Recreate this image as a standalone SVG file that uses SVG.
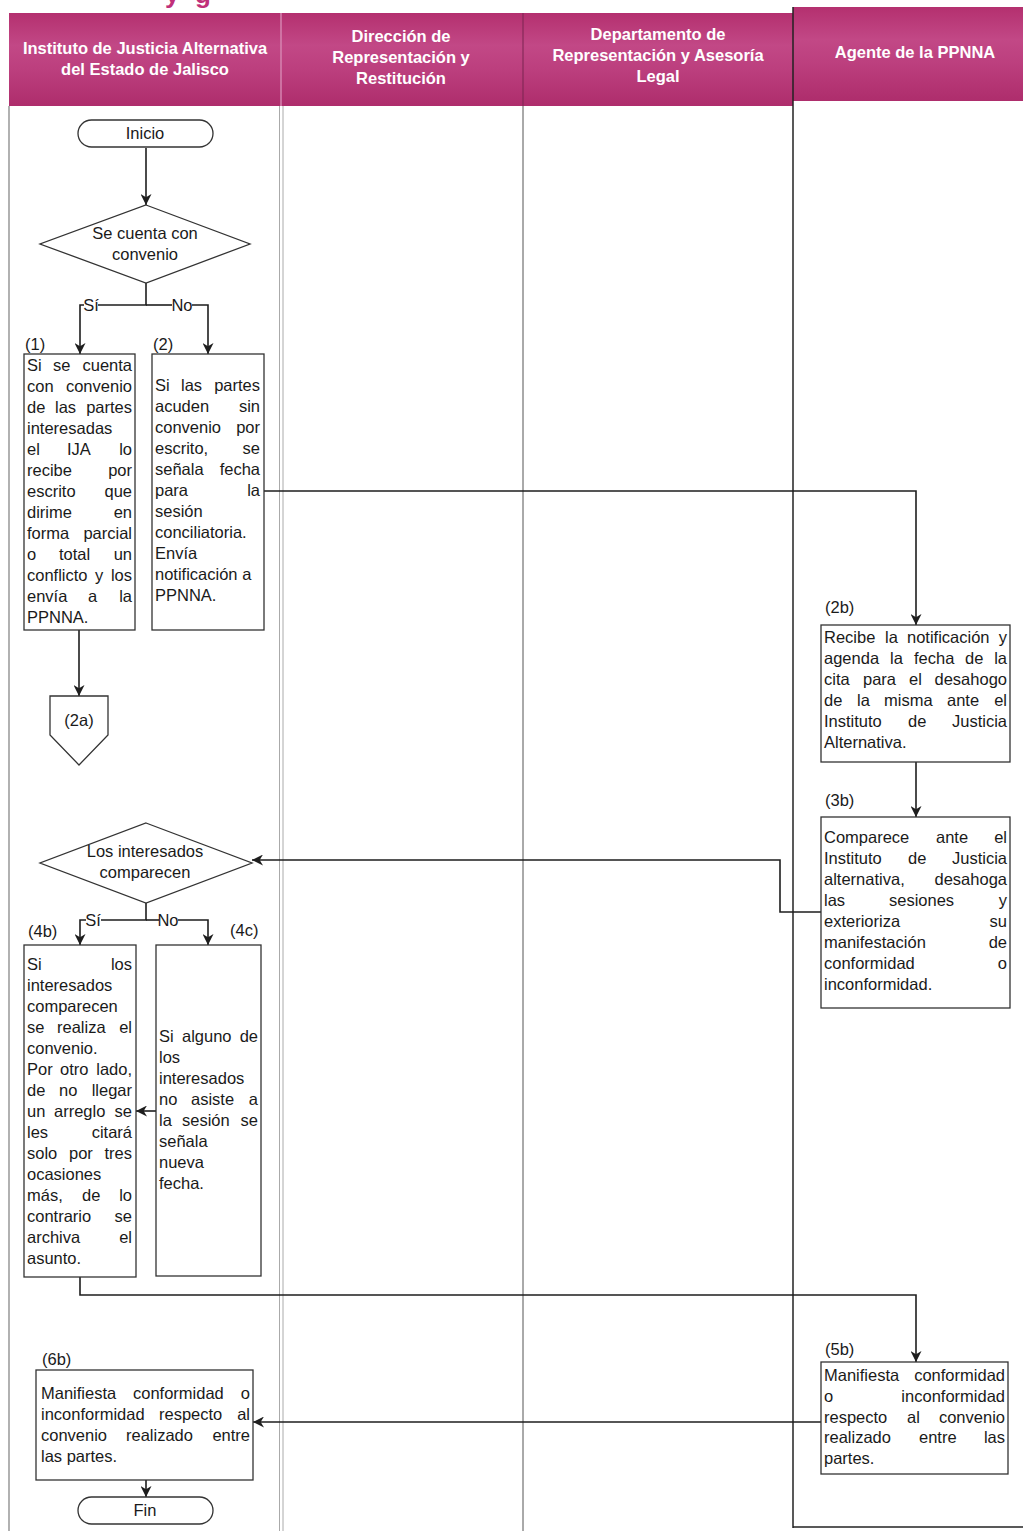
<svg xmlns="http://www.w3.org/2000/svg" width="1023" height="1531" viewBox="0 0 1023 1531">
<style>
.t{font-family:"Liberation Sans",Arial,sans-serif;font-size:16.5px;fill:#1a1a1a}
.r{text-anchor:end}
.m{text-anchor:middle}
.hd{font-family:"Liberation Sans",Arial,sans-serif;font-size:16.5px;font-weight:bold;fill:#ffffff;text-anchor:middle}
.box{fill:#ffffff;stroke:#333;stroke-width:1.3}
.cn{fill:none;stroke:#1e1e1e;stroke-width:1.6}
</style>
<defs>
<linearGradient id="hg" x1="0" y1="0" x2="0" y2="1">
<stop offset="0" stop-color="#b4306f"/>
<stop offset="0.35" stop-color="#c24886"/>
<stop offset="0.6" stop-color="#bc3f7e"/>
<stop offset="1" stop-color="#ae2d6c"/>
</linearGradient>
<marker id="ah" viewBox="0 0 10 10" refX="10" refY="5" markerWidth="11" markerHeight="11" markerUnits="userSpaceOnUse" orient="auto"><path d="M0,0 L10,5 L0,10 L3,5 z" fill="#1e1e1e"/></marker>
</defs>
<rect x="0" y="0" width="1023" height="1531" fill="#ffffff"/>
<text x="165 185 195" y="3" style="font-family:'Liberation Sans',Arial,sans-serif;font-size:26px;font-weight:bold;fill:#c0307a">y g</text>

<g id="lanes">
<rect x="9" y="13" width="784" height="93" fill="url(#hg)"/>
<rect x="793" y="7" width="230" height="94" fill="url(#hg)"/>
<line x1="281" y1="13" x2="281" y2="106" stroke="#d684b0" stroke-width="1.5"/>
<line x1="523" y1="13" x2="523" y2="106" stroke="#7a2450" stroke-width="1"/>
<line x1="793" y1="7" x2="793" y2="1528" stroke="#222" stroke-width="1.5"/>
<line x1="9" y1="106" x2="9" y2="1531" stroke="#888" stroke-width="1.3"/>
<line x1="279.5" y1="106" x2="279.5" y2="1531" stroke="#aaa" stroke-width="1"/>
<line x1="283" y1="106" x2="283" y2="1531" stroke="#aaa" stroke-width="1"/>
<line x1="523" y1="106" x2="523" y2="1531" stroke="#555" stroke-width="1"/>
<line x1="793" y1="1527" x2="1023" y2="1527" stroke="#222" stroke-width="1.5"/>
<text class="hd" x="145" y="54">Instituto de Justicia Alternativa</text>
<text class="hd" x="145" y="75">del Estado de Jalisco</text>
<text class="hd" x="401" y="42">Dirección de</text>
<text class="hd" x="401" y="63">Representación y</text>
<text class="hd" x="401" y="84">Restitución</text>
<text class="hd" x="658" y="40">Departamento de</text>
<text class="hd" x="658" y="61">Representación y Asesoría</text>
<text class="hd" x="658" y="82">Legal</text>
<text class="hd" x="915" y="58">Agente de la PPNNA</text>
</g>

<g id="connectors">
<path class="cn" d="M146,148 V205" marker-end="url(#ah)"/>
<path class="cn" d="M146,283 V305 H98"/>
<path class="cn" d="M84,305 H80 V354" marker-end="url(#ah)"/>
<path class="cn" d="M146,305 H172"/>
<path class="cn" d="M192,305 H208 V354" marker-end="url(#ah)"/>
<text class="t m" x="91" y="311">Sí</text>
<text class="t m" x="182" y="311">No</text>
<path class="cn" d="M79,630 V696" marker-end="url(#ah)"/>
<path class="cn" d="M264,491 H916 V625" stroke="#2c3e5c" marker-end="url(#ah)"/>
<path class="cn" d="M916,762 V817" marker-end="url(#ah)"/>
<path class="cn" d="M821,912 H780 V860 H252" marker-end="url(#ah)"/>
<path class="cn" d="M146,903 V920 H101"/>
<path class="cn" d="M86,920 H80 V945" marker-end="url(#ah)"/>
<path class="cn" d="M146,920 H159"/>
<path class="cn" d="M178,920 H208 V945" marker-end="url(#ah)"/>
<text class="t m" x="93" y="926">Sí</text>
<text class="t m" x="168" y="926">No</text>
<path class="cn" d="M156,1111 H136" marker-end="url(#ah)"/>
<path class="cn" d="M80,1277 V1295 H916 V1362" marker-end="url(#ah)"/>
<path class="cn" d="M821,1422 H253" marker-end="url(#ah)"/>
<path class="cn" d="M146,1480 V1497" marker-end="url(#ah)"/>
</g>

<g id="inicio">
<rect class="box" x="78" y="120" width="135" height="27" rx="13.5"/>
<text class="t m" x="145" y="139">Inicio</text>
</g>

<g id="d1">
<polygon class="box" points="146,205 250,244 146,283 40,244"/>
<text class="t m" x="145" y="239">Se cuenta con</text>
<text class="t m" x="145" y="260">convenio</text>
</g>

<g id="n1">
<text class="t" x="25" y="350">(1)</text>
<rect class="box" x="24" y="354" width="111" height="276"/>
<text class="t" x="27" y="371">Si</text><text class="t" x="53" y="371">se</text><text class="t r" x="132" y="371">cuenta</text>
<text class="t" x="27" y="392">con</text><text class="t r" x="132" y="392">convenio</text>
<text class="t" x="27" y="413">de</text><text class="t" x="55" y="413">las</text><text class="t r" x="132" y="413">partes</text>
<text class="t" x="27" y="434">interesadas</text>
<text class="t" x="27" y="455">el</text><text class="t" x="67" y="455">IJA</text><text class="t r" x="132" y="455">lo</text>
<text class="t" x="27" y="476">recibe</text><text class="t r" x="132" y="476">por</text>
<text class="t" x="27" y="497">escrito</text><text class="t r" x="132" y="497">que</text>
<text class="t" x="27" y="518">dirime</text><text class="t r" x="132" y="518">en</text>
<text class="t" x="27" y="539">forma</text><text class="t r" x="132" y="539">parcial</text>
<text class="t" x="27" y="560">o</text><text class="t" x="59" y="560">total</text><text class="t r" x="132" y="560">un</text>
<text class="t" x="27" y="581">conflicto</text><text class="t" x="95" y="581">y</text><text class="t r" x="132" y="581">los</text>
<text class="t" x="27" y="602">envía</text><text class="t" x="88" y="602">a</text><text class="t r" x="132" y="602">la</text>
<text class="t" x="27" y="623">PPNNA.</text>
</g>

<g id="n2">
<text class="t" x="153" y="350">(2)</text>
<rect class="box" x="152" y="354" width="112" height="276"/>
<text class="t" x="155" y="391">Si</text><text class="t" x="181" y="391">las</text><text class="t r" x="260" y="391">partes</text>
<text class="t" x="155" y="412">acuden</text><text class="t r" x="260" y="412">sin</text>
<text class="t" x="155" y="433">convenio</text><text class="t r" x="260" y="433">por</text>
<text class="t" x="155" y="454">escrito,</text><text class="t r" x="260" y="454">se</text>
<text class="t" x="155" y="475">señala</text><text class="t r" x="260" y="475">fecha</text>
<text class="t" x="155" y="496">para</text><text class="t r" x="260" y="496">la</text>
<text class="t" x="155" y="517">sesión</text>
<text class="t" x="155" y="538">conciliatoria.</text>
<text class="t" x="155" y="559">Envía</text>
<text class="t" x="155" y="580">notificación a</text>
<text class="t" x="155" y="601">PPNNA.</text>
</g>

<g id="n2a">
<polygon class="box" points="50,696 108,696 108,735 79,765 50,735"/>
<text class="t m" x="79" y="726">(2a)</text>
</g>

<g id="n2b">
<text class="t" x="825" y="613">(2b)</text>
<rect class="box" x="821" y="625" width="189" height="137"/>
<text class="t" x="824" y="643">Recibe</text><text class="t" x="885" y="643">la</text><text class="t" x="907" y="643">notificación</text><text class="t r" x="1007" y="643">y</text>
<text class="t" x="824" y="664">agenda</text><text class="t" x="890" y="664">la</text><text class="t" x="914" y="664">fecha</text><text class="t" x="965" y="664">de</text><text class="t r" x="1007" y="664">la</text>
<text class="t" x="824" y="685">cita</text><text class="t" x="863" y="685">para</text><text class="t" x="909" y="685">el</text><text class="t r" x="1007" y="685">desahogo</text>
<text class="t" x="824" y="706">de</text><text class="t" x="857" y="706">la</text><text class="t" x="884" y="706">misma</text><text class="t" x="947" y="706">ante</text><text class="t r" x="1007" y="706">el</text>
<text class="t" x="824" y="727">Instituto</text><text class="t" x="908" y="727">de</text><text class="t r" x="1007" y="727">Justicia</text>
<text class="t" x="824" y="748">Alternativa.</text>
</g>

<g id="n3b">
<text class="t" x="825" y="806">(3b)</text>
<rect class="box" x="821" y="817" width="189" height="191"/>
<text class="t" x="824" y="843">Comparece</text><text class="t" x="936" y="843">ante</text><text class="t r" x="1007" y="843">el</text>
<text class="t" x="824" y="864">Instituto</text><text class="t" x="908" y="864">de</text><text class="t r" x="1007" y="864">Justicia</text>
<text class="t" x="824" y="885">alternativa,</text><text class="t r" x="1007" y="885">desahoga</text>
<text class="t" x="824" y="906">las</text><text class="t" x="889" y="906">sesiones</text><text class="t r" x="1007" y="906">y</text>
<text class="t" x="824" y="927">exterioriza</text><text class="t r" x="1007" y="927">su</text>
<text class="t" x="824" y="948">manifestación</text><text class="t r" x="1007" y="948">de</text>
<text class="t" x="824" y="969">conformidad</text><text class="t r" x="1007" y="969">o</text>
<text class="t" x="824" y="990">inconformidad.</text>
</g>

<g id="d2">
<polygon class="box" points="146,823 252,863 146,903 40,863"/>
<text class="t m" x="145" y="857">Los interesados</text>
<text class="t m" x="145" y="878">comparecen</text>
</g>

<g id="n4b">
<text class="t" x="28" y="937">(4b)</text>
<rect class="box" x="24" y="945" width="112" height="332"/>
<text class="t" x="27" y="970">Si</text><text class="t r" x="132" y="970">los</text>
<text class="t" x="27" y="991">interesados</text>
<text class="t" x="27" y="1012">comparecen</text>
<text class="t" x="27" y="1033">se</text><text class="t" x="57" y="1033">realiza</text><text class="t r" x="132" y="1033">el</text>
<text class="t" x="27" y="1054">convenio.</text>
<text class="t" x="27" y="1075">Por</text><text class="t" x="60" y="1075">otro</text><text class="t r" x="132" y="1075">lado,</text>
<text class="t" x="27" y="1096">de</text><text class="t" x="59" y="1096">no</text><text class="t r" x="132" y="1096">llegar</text>
<text class="t" x="27" y="1117">un</text><text class="t" x="54" y="1117">arreglo</text><text class="t r" x="132" y="1117">se</text>
<text class="t" x="27" y="1138">les</text><text class="t r" x="132" y="1138">citará</text>
<text class="t" x="27" y="1159">solo</text><text class="t" x="69" y="1159">por</text><text class="t r" x="132" y="1159">tres</text>
<text class="t" x="27" y="1180">ocasiones</text>
<text class="t" x="27" y="1201">más,</text><text class="t" x="82" y="1201">de</text><text class="t r" x="132" y="1201">lo</text>
<text class="t" x="27" y="1222">contrario</text><text class="t r" x="132" y="1222">se</text>
<text class="t" x="27" y="1243">archiva</text><text class="t r" x="132" y="1243">el</text>
<text class="t" x="27" y="1264">asunto.</text>
</g>

<g id="n4c">
<text class="t" x="230" y="936">(4c)</text>
<rect class="box" x="156" y="945" width="105" height="331"/>
<text class="t" x="159" y="1042">Si</text><text class="t" x="182" y="1042">alguno</text><text class="t r" x="258" y="1042">de</text>
<text class="t" x="159" y="1063">los</text>
<text class="t" x="159" y="1084">interesados</text>
<text class="t" x="159" y="1105">no</text><text class="t" x="191" y="1105">asiste</text><text class="t r" x="258" y="1105">a</text>
<text class="t" x="159" y="1126">la</text><text class="t" x="182" y="1126">sesión</text><text class="t r" x="258" y="1126">se</text>
<text class="t" x="159" y="1147">señala</text>
<text class="t" x="159" y="1168">nueva</text>
<text class="t" x="159" y="1189">fecha.</text>
</g>

<g id="n5b">
<text class="t" x="825" y="1355">(5b)</text>
<rect class="box" x="821" y="1362" width="187" height="112"/>
<text class="t" x="824" y="1381">Manifiesta</text><text class="t r" x="1005" y="1381">conformidad</text>
<text class="t" x="824" y="1402">o</text><text class="t r" x="1005" y="1402">inconformidad</text>
<text class="t" x="824" y="1423">respecto</text><text class="t" x="907" y="1423">al</text><text class="t r" x="1005" y="1423">convenio</text>
<text class="t" x="824" y="1443">realizado</text><text class="t" x="919" y="1443">entre</text><text class="t r" x="1005" y="1443">las</text>
<text class="t" x="824" y="1464">partes.</text>
</g>

<g id="n6b">
<text class="t" x="42" y="1365">(6b)</text>
<rect class="box" x="36" y="1370" width="217" height="110"/>
<text class="t" x="41" y="1399">Manifiesta</text><text class="t" x="133" y="1399">conformidad</text><text class="t r" x="250" y="1399">o</text>
<text class="t" x="41" y="1420">inconformidad</text><text class="t" x="159" y="1420">respecto</text><text class="t r" x="250" y="1420">al</text>
<text class="t" x="41" y="1441">convenio</text><text class="t" x="126" y="1441">realizado</text><text class="t r" x="250" y="1441">entre</text>
<text class="t" x="41" y="1462">las partes.</text>
</g>

<g id="fin">
<rect class="box" x="78" y="1497" width="135" height="27" rx="13.5"/>
<text class="t m" x="145" y="1516">Fin</text>
</g>
</svg>
